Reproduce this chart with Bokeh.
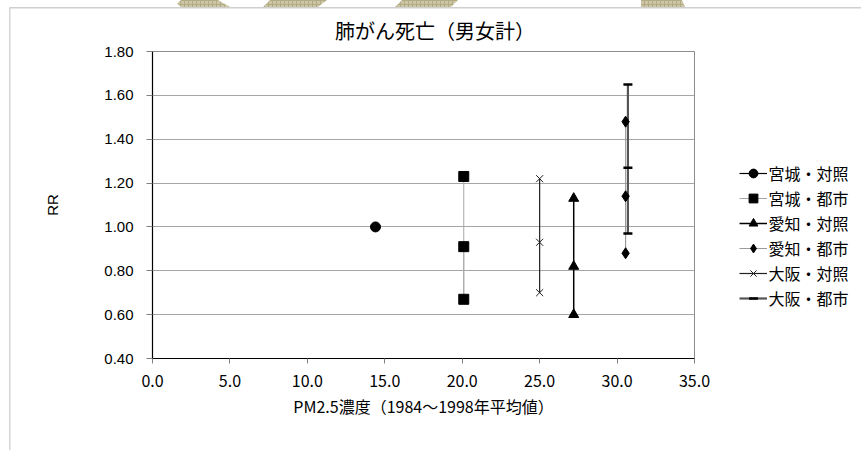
from urllib.parse import quote

from bokeh.embed import file_html
from bokeh.models import (FixedTicker, Legend, LegendItem,
                          NumeralTickFormatter, Range1d)
from bokeh.plotting import figure
from bokeh.resources import INLINE

# ---- data -------------------------------------------------------------
title_text = "肺がん死亡（男女計）"
x_title = "PM2.5濃度（1984〜1998年平均値）"
y_title = "RR"

series_names = ["宮城・対照", "宮城・都市", "愛知・対照", "愛知・都市", "大阪・対照", "大阪・都市"]
pm25 = [14.4, 20.1, 27.2, 30.55, 25.0, 30.7]      # mean PM2.5 1984-1998
rr_point = [1.00, 0.91, 0.82, 1.14, 0.93, 1.27]   # relative risk
rr_lower = [None, 0.67, 0.60, 0.88, 0.70, 0.97]   # 95% CI lower
rr_upper = [None, 1.23, 1.13, 1.48, 1.22, 1.65]   # 95% CI upper

x_ticks = [0.0, 5.0, 10.0, 15.0, 20.0, 25.0, 30.0, 35.0]
y_ticks = [0.40, 0.60, 0.80, 1.00, 1.20, 1.40, 1.60, 1.80]

# ---- styles -----------------------------------------------------------
markers = ["circle", "square", "triangle", "diamond", "x", "dash"]
marker_sizes = [10, 10, 10, 11, 10, 9]
marker_lw = [1, 1, 1, 1, 1, 2.5]
marker_line = ["black", "black", "black", "black", "#222222", "black"]
line_colors = ["black", "#a8a8a8", "black", "#9a9a9a", "#222222", "#555555"]
line_widths = [1.2, 1, 1.5, 1, 1.2, 2.2]

JP = "Noto Sans CJK JP"
LAT = "Liberation Sans"

# page geometry (pixels)
PAGE_W, PAGE_H = 861, 450
FL, FT, FW, FH = 152.5, 51, 542, 307  # plot frame on the page
FB = FT + FH

# ---- page chrome behind the chart: rules and header tabs ---------------
tab_shapes = [
    "177,3.5 181,0 218,0 230,7 181,7",
    "263,7 270,0 327,0 318,7",
    "395,7 402,0 458,0 451,7",
    "641,0 682,0 685,7 641,7",
]
chrome = (
    f'<svg xmlns="http://www.w3.org/2000/svg" width="{PAGE_W}" height="{PAGE_H}">'
    '<defs><pattern id="h" width="4" height="4" patternUnits="userSpaceOnUse">'
    '<rect width="4" height="4" fill="#cdc6a5"/>'
    '<path d="M0 0.5H4M0.5 0V4" stroke="#b3ab86" stroke-width="1"/></pattern></defs>'
    + "".join(f'<polygon points="{s}" fill="url(#h)"/>' for s in tab_shapes)
    + f'<rect x="9" y="7" width="{PAGE_W - 9}" height="1.5" fill="#cfcfcf"/>'
    + f'<rect x="9" y="7" width="1.5" height="{PAGE_H - 7}" fill="#d6d6d6"/>'
    "</svg>"
)
bg = f'url("data:image/svg+xml,{quote(chrome)}") no-repeat 0 0, white'

# ---- main chart ---------------------------------------------------------
p = figure(
    frame_width=FW, frame_height=FH,
    min_border_left=int(round(FL)), min_border_top=FT,
    min_border_right=PAGE_W - int(round(FL)) - FW,
    min_border_bottom=PAGE_H - FB,
    x_range=Range1d(0, 35), y_range=Range1d(0.4, 1.8),
    output_backend="svg", toolbar_location=None,
    background_fill_color="white", border_fill_alpha=0,
)
p.styles = {"background": bg}
p.outline_line_color = "#8c8c8c"
p.outline_line_width = 1

p.title.text = title_text
p.title.text_font = JP
p.title.text_font_size = "20px"
p.title.text_font_style = "normal"
p.title.text_color = "black"
p.title.align = "left"
p.title.offset = 432 - 97 - FL
p.title.standoff = 14

p.xgrid.grid_line_color = None
p.ygrid.grid_line_color = "#a6a6a6"
p.ygrid.grid_line_width = 1
p.ygrid.ticker = FixedTicker(ticks=y_ticks)

p.xaxis.ticker = FixedTicker(ticks=x_ticks)
p.yaxis.ticker = FixedTicker(ticks=y_ticks)
p.xaxis.formatter = NumeralTickFormatter(format="0.0")
p.yaxis.formatter = NumeralTickFormatter(format="0.00")
for ax in (p.xaxis, p.yaxis):
    ax.axis_line_color = "black"
    ax.axis_line_width = 1.2
    ax.minor_tick_line_color = None
    ax.major_tick_in = 0
    ax.major_tick_line_color = "#808080"
    ax.major_label_text_color = "black"
    ax.axis_label_text_color = "black"
    ax.axis_label_text_font_style = "normal"
p.xaxis.major_tick_out = 5
p.yaxis.major_tick_out = 6
p.xaxis.major_label_standoff = 11
p.yaxis.major_label_standoff = 13
p.xaxis.major_label_text_font = JP
p.xaxis.major_label_text_font_size = "16px"
p.yaxis.major_label_text_font = LAT
p.yaxis.major_label_text_font_size = "15px"

p.xaxis.axis_label = x_title
p.xaxis.axis_label_text_font = JP
p.xaxis.axis_label_text_font_size = "16px"
p.xaxis.axis_label_standoff = 4
p.yaxis.axis_label = y_title
p.yaxis.axis_label_text_font = LAT
p.yaxis.axis_label_text_font_size = "15px"
p.yaxis.axis_label_standoff = 40

# ---- series: connecting line + markers --------------------------------
series, line_rs = [], []
for i in range(len(series_names)):
    ys = [rr_point[i]]
    if rr_lower[i] is not None:
        ys += [rr_lower[i], rr_upper[i]]
    xs = [pm25[i]] * len(ys)
    line_rs.append(p.line(xs, ys, line_color=line_colors[i], line_width=line_widths[i]))
    series.append((xs, ys))

mark_rs = []
for i, (xs, ys) in enumerate(series):
    sr = p.scatter(xs, ys, marker=markers[i], size=marker_sizes[i],
                   fill_color="black", line_color=marker_line[i],
                   line_width=marker_lw[i])
    mark_rs.append(sr)

items = [LegendItem(label=name, renderers=[line_rs[i], mark_rs[i]])
         for i, name in enumerate(series_names)]

legend = Legend(
    items=items, location=(739 - (FL + FW), FB - 310),
    border_line_color=None, background_fill_alpha=0,
    padding=0, margin=0, spacing=0,
    glyph_width=28, glyph_height=22, label_height=25, label_standoff=2,
    label_text_font=JP, label_text_font_size="16px", label_text_color="black",
)
p.add_layout(legend, "right")

open("out.html", "w").write(file_html(p, INLINE))
